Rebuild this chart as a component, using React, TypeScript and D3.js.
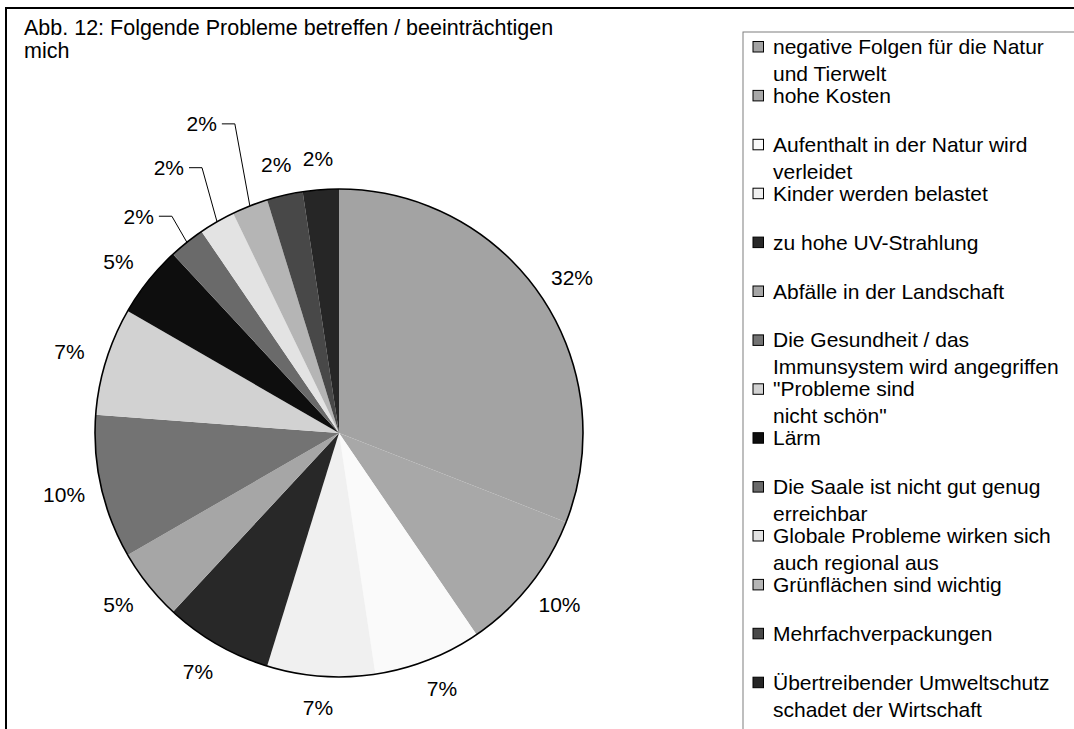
import React from "react";
import * as d3 from "d3";

const titleLines = ["Abb. 12: Folgende Probleme betreffen / beeinträchtigen", "mich"];

const categories: string[][] = [
  ["negative Folgen für die Natur", "und Tierwelt"],
  ["hohe Kosten"],
  ["Aufenthalt in der Natur wird", "verleidet"],
  ["Kinder werden belastet"],
  ["zu hohe UV-Strahlung"],
  ["Abfälle in der Landschaft"],
  ["Die Gesundheit / das", "Immunsystem wird angegriffen"],
  ["\"Probleme sind", "nicht schön\""],
  ["Lärm"],
  ["Die Saale ist nicht gut genug", "erreichbar"],
  ["Globale Probleme wirken sich", "auch regional aus"],
  ["Grünflächen sind wichtig"],
  ["Mehrfachverpackungen"],
  ["Übertreibender Umweltschutz", "schadet der Wirtschaft"],
];

// number of responses per category (slice sizes)
const responses = [13, 4, 3, 3, 3, 2, 4, 3, 2, 1, 1, 1, 1, 1];

// data labels as printed in the chart
const percentLabels = ["32%", "10%", "7%", "7%", "7%", "5%", "10%", "7%", "5%", "2%", "2%", "2%", "2%", "2%"];

const colors = [
  "#a3a3a3", "#a8a8a8", "#fafafa", "#f0f0f0", "#282828", "#a6a6a6", "#737373",
  "#d2d2d2", "#0e0e0e", "#6a6a6a", "#e3e3e3", "#b5b5b5", "#484848", "#262626",
];

// slices whose labels were moved out with leader lines
const leaderSlices = [9, 10, 11];

const W = 1074;
const H = 729;
const FONT = "'Liberation Sans', Arial, sans-serif";

export default function App() {
  const cx = 339;
  const cy = 433;
  const R = 244;

  const pie = d3.pie<number>().sort(null).value((d) => d).startAngle(0).endAngle(2 * Math.PI);
  const arcs = pie(responses);
  const arcGen = d3.arc<d3.PieArcDatum<number>>().innerRadius(0).outerRadius(R);

  const legendX = 743;
  const legendY = 32;
  const itemY0 = 54;
  const itemStep = 48.9;
  const wrapStep = 27;

  return (
    <svg
      width={W}
      height={H}
      style={{ position: "absolute", left: 0, top: 0, background: "#fff" }}
      fontFamily={FONT}
    >
      <rect x={0} y={0} width={W} height={H} fill="#fff" />
      {/* outer frame */}
      <rect x={6} y={8} width={W + 20} height={H + 20} fill="none" stroke="#000" strokeWidth={2} />

      {/* title */}
      {titleLines.map((t, i) => (
        <text key={i} x={24} y={35 + i * 23} fontSize={21.5} fill="#000">
          {t}
        </text>
      ))}

      {/* pie */}
      <g transform={`translate(${cx},${cy})`}>
        {arcs.map((a, i) => (
          <path key={i} d={arcGen(a) || ""} fill={colors[i]} stroke="none" />
        ))}
        <circle r={R} fill="none" stroke="#000" strokeWidth={1.6} />
      </g>

      {/* data labels */}
      {arcs.map((a, i) => {
        const th = (a.startAngle + a.endAngle) / 2;
        const s = Math.sin(th);
        const c = Math.cos(th);
        const k = leaderSlices.indexOf(i);
        if (k >= 0) {
          const p0x = cx + R * s;
          const p0y = cy - R * c;
          const ex = p0x - 15;
          const ey = p0y - (26 + 28 * k);
          const hx = ex - 13;
          return (
            <g key={i}>
              <polyline
                points={`${p0x},${p0y} ${ex},${ey} ${hx},${ey}`}
                fill="none"
                stroke="#000"
                strokeWidth={1}
              />
              <text x={hx - 5} y={ey} dy="0.35em" textAnchor="end" fontSize={21} fill="#000">
                {percentLabels[i]}
              </text>
            </g>
          );
        }
        const lx = cx + 282 * s;
        const ly = cy - 275 * c;
        return (
          <text key={i} x={lx} y={ly} dy="0.35em" textAnchor="middle" fontSize={21} fill="#000">
            {percentLabels[i]}
          </text>
        );
      })}

      {/* legend */}
      <rect x={legendX} y={legendY} width={W} height={H} fill="#fff" stroke="#7f7f7f" strokeWidth={1} />
      {categories.map((lines, i) => {
        const by = itemY0 + i * itemStep;
        return (
          <g key={i}>
            <rect x={753} y={by - 12.5} width={10.5} height={10.5} fill={colors[i]} stroke="#000" strokeWidth={1} />
            {lines.map((ln, j) => (
              <text key={j} x={773} y={by + j * wrapStep} fontSize={21} fill="#000">
                {ln}
              </text>
            ))}
          </g>
        );
      })}
    </svg>
  );
}
